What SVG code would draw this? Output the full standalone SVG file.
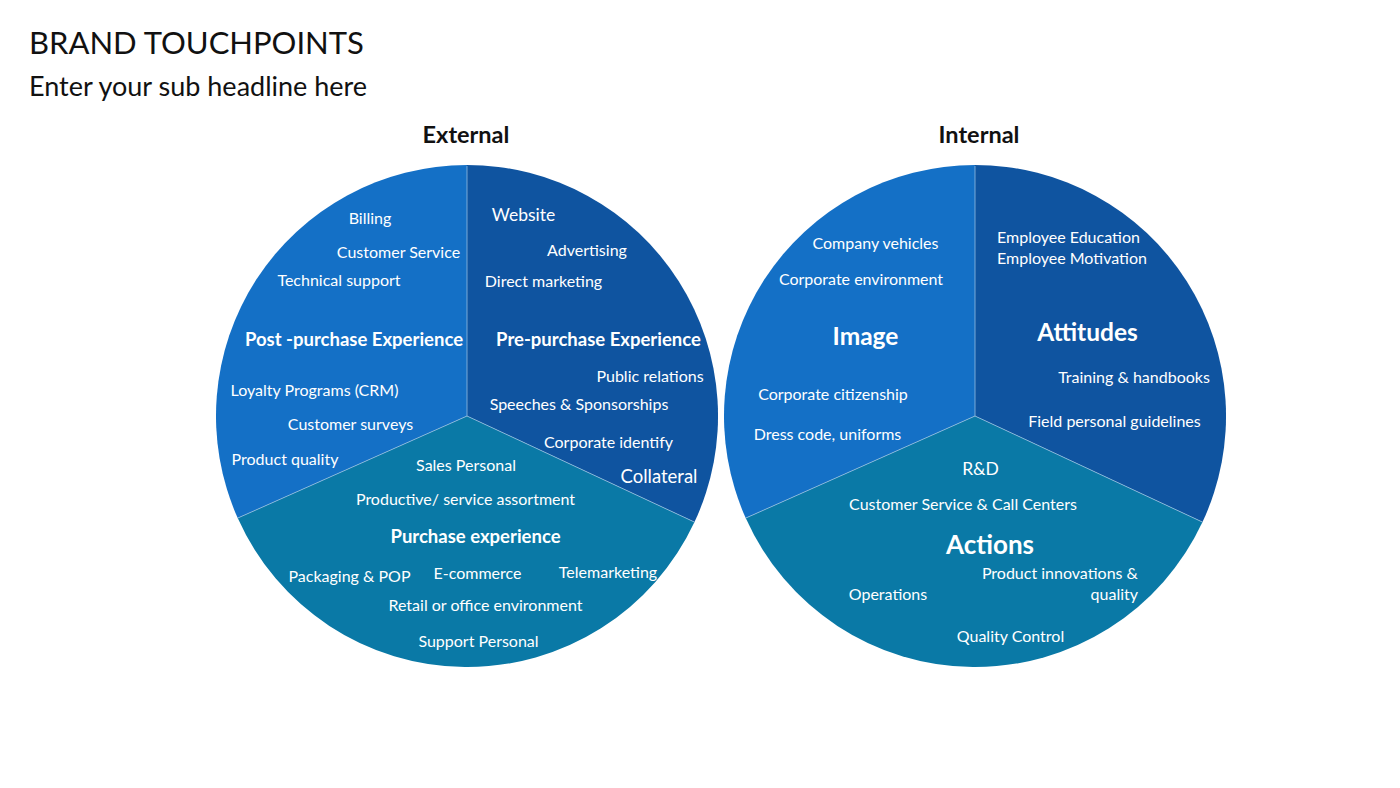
<svg xmlns="http://www.w3.org/2000/svg" width="1400" height="788" viewBox="0 0 1400 788">
<style>
text{font-family:Lato,"Open Sans","Noto Sans",sans-serif;fill:#ffffff;}
.t{font-size:16px;text-anchor:middle;}
.b{font-size:18.5px;font-weight:bold;text-anchor:middle;}
.big{font-size:24.5px;font-weight:bold;text-anchor:middle;}
.hd{fill:#111111;font-size:23.5px;font-weight:bold;text-anchor:middle;}
.s1{fill:#1470C6;}
.s2{fill:#0F54A0;}
.s3{fill:#0A79A6;}
.sep{stroke:#9CC2E3;stroke-width:1;stroke-opacity:0.75;fill:none;}
</style>
<rect width="1400" height="788" fill="#ffffff"/>
<g id="title">
<text x="29" y="54" style="fill:#111111;font-size:31px;">BRAND TOUCHPOINTS</text>
<text x="29" y="96" style="fill:#111111;font-size:27px;">Enter your sub headline here</text>
</g>
<g id="external-label"><text class="hd" x="466" y="143">External</text></g>
<g id="internal-label"><text class="hd" x="979" y="143">Internal</text></g>

<g id="post-purchase">
<path class="s1" d="M467,416 L467,165 A251,251 0 0 0 237.7,518.1 Z"/>
<text class="t" x="370" y="224">Billing</text>
<text class="t" x="398.5" y="258">Customer Service</text>
<text class="t" x="339" y="286">Technical support</text>
<text class="b" x="354" y="346">Post -purchase Experience</text>
<text class="t" x="314.5" y="396">Loyalty Programs (CRM)</text>
<text class="t" x="350.5" y="430">Customer surveys</text>
<text class="t" x="285" y="465">Product quality</text>
</g>
<g id="pre-purchase">
<path class="s2" d="M467,416 L467,165 A251,251 0 0 1 694.5,522.1 Z"/>
<text class="t" x="523.5" y="221" style="font-size:17.5px">Website</text>
<text class="t" x="587" y="256">Advertising</text>
<text class="t" x="543.5" y="287">Direct marketing</text>
<text class="b" x="598.5" y="346">Pre-purchase Experience</text>
<text class="t" x="650" y="382">Public relations</text>
<text class="t" x="579" y="410">Speeches &amp; Sponsorships</text>
<text class="t" x="608.5" y="448">Corporate identify</text>
<text class="t" x="659" y="483" style="font-size:18.5px">Collateral</text>
</g>
<g id="purchase">
<path class="s3" d="M467,416 L694.5,522.1 A251,251 0 0 1 237.7,518.1 Z"/>
<text class="t" x="466" y="471">Sales Personal</text>
<text class="t" x="465.5" y="505">Productive/ service assortment</text>
<text class="b" x="475.5" y="543">Purchase experience</text>
<text class="t" x="349.5" y="582">Packaging &amp; POP</text>
<text class="t" x="477.5" y="579">E-commerce</text>
<text class="t" x="608" y="578">Telemarketing</text>
<text class="t" x="485.5" y="611">Retail or office environment</text>
<text class="t" x="478.5" y="647">Support Personal</text>
</g>

<g id="image">
<path class="s1" d="M975,416 L975,165 A251,251 0 0 0 745.7,518.1 Z"/>
<text class="t" x="875.5" y="249">Company vehicles</text>
<text class="t" x="861" y="285">Corporate environment</text>
<text class="big" x="865.5" y="345">Image</text>
<text class="t" x="833" y="400">Corporate citizenship</text>
<text class="t" x="827.5" y="440">Dress code, uniforms</text>
</g>
<g id="attitudes">
<path class="s2" d="M975,416 L975,165 A251,251 0 0 1 1202.5,522.1 Z"/>
<text class="t" x="997" y="243" style="text-anchor:start">Employee Education</text>
<text class="t" x="997" y="264" style="text-anchor:start">Employee Motivation</text>
<text class="big" x="1087.5" y="341">Attitudes</text>
<text class="t" x="1134" y="383">Training &amp; handbooks</text>
<text class="t" x="1114.5" y="427">Field personal guidelines</text>
</g>
<g id="actions">
<path class="s3" d="M975,416 L1202.5,522.1 A251,251 0 0 1 745.7,518.1 Z"/>
<text class="t" x="980.5" y="475" style="font-size:17.5px">R&amp;D</text>
<text class="t" x="963" y="510">Customer Service &amp; Call Centers</text>
<text class="big" x="990" y="554" style="font-size:26px">Actions</text>
<text class="t" x="1138" y="579" style="text-anchor:end">Product innovations &amp;</text>
<text class="t" x="1138" y="600" style="text-anchor:end">quality</text>
<text class="t" x="888" y="600">Operations</text>
<text class="t" x="1010.5" y="642">Quality Control</text>
</g>

<g id="connectors">
<path class="sep" d="M467,166 L467,416 L237.7,518.1 M467,416 L694.5,522.1"/>
<path class="sep" d="M975,166 L975,416 L745.7,518.1 M975,416 L1202.5,522.1"/>
</g>
</svg>
